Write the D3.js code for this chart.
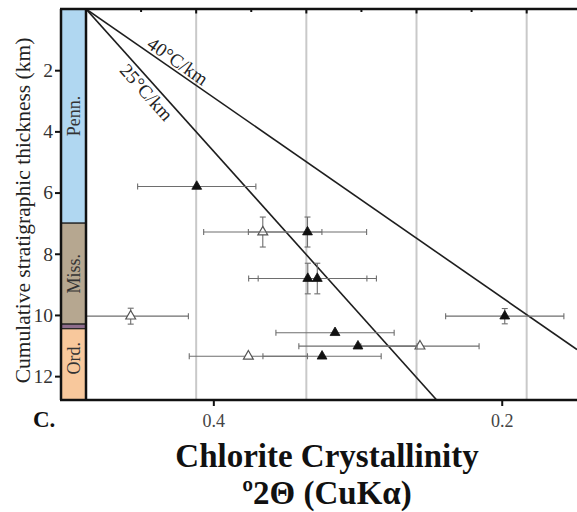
<!DOCTYPE html>
<html>
<head>
<meta charset="utf-8">
<script src="https://cdn.jsdelivr.net/npm/d3@7"></script>
<style>
  html, body { margin: 0; padding: 0; background: #fff; }
  svg { display: block; }
  text { font-family: "Liberation Serif", "Times New Roman", serif; }
</style>
</head>
<body>
<svg id="chart" width="577" height="512"></svg>
<script>
// ---------- data ----------
// filled triangles
const filledDepth = [5.80, 7.29, 8.81, 8.81, 10.04, 10.58, 11.02, 11.35];
const filledCC    = [0.4115, 0.3347, 0.3345, 0.3279, 0.1979, 0.3156, 0.2997, 0.3246];
const filledXErr  = [0.041, 0.041, 0.041, 0.041, 0.041, 0.041, 0.041, 0.041];
const filledYErr  = [0, 0.49, 0.50, 0.50, 0.25, 0, 0, 0];
// open triangles
const openDepth = [7.29, 10.04, 11.02, 11.35];
const openCC    = [0.3657, 0.4573, 0.2567, 0.3757];
const openXErr  = [0.041, 0.040, 0.041, 0.041];
const openYErr  = [0.49, 0.26, 0, 0];
// geothermal gradient lines (start, end) in data units
const gradientNames = ["40°C/km", "25°C/km"];
const gradientStart = [[0.4883, 0], [0.4883, 0]];
const gradientEnd   = [[0.1478, 11.13], [0.2451, 12.78]];
// stratigraphic column
const strataNames  = ["Penn.", "Miss.", "", "Ord."];
const strataTop    = [0, 7.0, 10.30, 10.45];
const strataBottom = [7.0, 10.30, 10.45, 12.78];
const strataColors = ["#b0d7f1", "#b6a790", "#8e6d8c", "#f8c89c"];
// axes
const yTicks = [2, 4, 6, 8, 10, 12];
const xTicks = [0.4, 0.2];
const xTickLabels = ["0.4", "0.2"];
const topTicks = [0.4501, 0.4119, 0.3737, 0.3355, 0.2973, 0.2591, 0.2209, 0.1827];
const gridValues = [0.4119, 0.3355, 0.2591, 0.1827];

// ---------- layout ----------
const svg = d3.select("#chart");
const plotL = 86, plotR = 577, plotT = 9, plotB = 400;
const barL = 61;

const x = d3.scaleLinear().domain([0.4883, 0.1478]).range([plotL, plotR]);
const y = d3.scaleLinear().domain([0, 12.78]).range([plotT, plotB]);

svg.append("defs").append("clipPath").attr("id", "plotClip")
  .append("rect").attr("x", plotL).attr("y", plotT)
  .attr("width", plotR - plotL).attr("height", plotB - plotT);

// gridlines
svg.append("g").selectAll("line").data(gridValues).join("line")
  .attr("x1", d => x(d)).attr("x2", d => x(d))
  .attr("y1", plotT).attr("y2", plotB)
  .attr("stroke", "#c9c9c9").attr("stroke-width", 2);

// strata column
const strata = svg.append("g");
strata.selectAll("rect").data(strataTop).join("rect")
  .attr("x", barL).attr("width", plotL - barL)
  .attr("y", d => y(d))
  .attr("height", (d, i) => y(strataBottom[i]) - y(d))
  .attr("fill", (d, i) => strataColors[i])
  .attr("stroke", "#222").attr("stroke-width", 1.2);
strata.selectAll("text").data(strataNames).join("text")
  .attr("transform", (d, i) => `translate(${(barL + plotL) / 2 + 6},${(y(strataTop[i]) + y(strataBottom[i])) / 2 - (i === 3 ? 6 : 0)}) rotate(-90)`)
  .attr("text-anchor", "middle")
  .attr("font-size", 18)
  .attr("fill", "#333")
  .text(d => d);

// gradient lines
const plot = svg.append("g").attr("clip-path", "url(#plotClip)");
plot.selectAll("line.grad").data(gradientStart).join("line")
  .attr("class", "grad")
  .attr("x1", d => x(d[0])).attr("y1", d => y(d[1]))
  .attr("x2", (d, i) => x(gradientEnd[i][0])).attr("y2", (d, i) => y(gradientEnd[i][1]))
  .attr("stroke", "#1e1e1e").attr("stroke-width", 1.6);

// gradient labels
const labelT = [0.176, 0.195];
const labelDy = [-3, 17];
gradientNames.forEach((name, i) => {
  const x0 = x(gradientStart[i][0]), y0 = y(gradientStart[i][1]);
  const x1 = x(gradientEnd[i][0]), y1 = y(gradientEnd[i][1]);
  const ang = Math.atan2(y1 - y0, x1 - x0) * 180 / Math.PI;
  const px = x0 + (x1 - x0) * labelT[i], py = y0 + (y1 - y0) * labelT[i];
  svg.append("text")
    .attr("transform", `translate(${px},${py}) rotate(${ang})`)
    .attr("y", labelDy[i])
    .attr("text-anchor", "middle")
    .attr("font-size", 19)
    .attr("fill", "#222")
    .text(name);
});

// error bars + points
function drawSeries(depth, cc, xerr, yerr, filled) {
  const g = plot.append("g");
  const cap = 3;
  depth.forEach((d, i) => {
    const cx = x(cc[i]), cy = y(d);
    const xl = x(cc[i] + xerr[i]), xr = x(cc[i] - xerr[i]);
    g.append("line").attr("x1", xl).attr("x2", xr).attr("y1", cy).attr("y2", cy)
      .attr("stroke", "#6e6e6e").attr("stroke-width", 1.1);
    [xl, xr].forEach(xx => g.append("line").attr("x1", xx).attr("x2", xx)
      .attr("y1", cy - cap).attr("y2", cy + cap)
      .attr("stroke", "#6e6e6e").attr("stroke-width", 1.1));
    if (yerr[i] > 0) {
      const yt = y(d - yerr[i]), yb = y(d + yerr[i]);
      g.append("line").attr("x1", cx).attr("x2", cx).attr("y1", yt).attr("y2", yb)
        .attr("stroke", "#6e6e6e").attr("stroke-width", 1.1);
      [yt, yb].forEach(yy => g.append("line").attr("x1", cx - cap).attr("x2", cx + cap)
        .attr("y1", yy).attr("y2", yy)
        .attr("stroke", "#6e6e6e").attr("stroke-width", 1.1));
    }
  });
  g.selectAll("path").data(depth).join("path")
    .attr("d", d3.symbol().type(d3.symbolTriangle).size(42))
    .attr("transform", (d, i) => `translate(${x(cc[i])},${y(d)})`)
    .attr("fill", filled ? "#111" : "#fff")
    .attr("stroke", filled ? "#111" : "#555")
    .attr("stroke-width", filled ? 0.8 : 1.2);
}
drawSeries(openDepth, openCC, openXErr, openYErr, false);
drawSeries(filledDepth, filledCC, filledXErr, filledYErr, true);

// frame
const frame = svg.append("g").attr("stroke", "#111").attr("stroke-width", 2.5);
frame.append("line").attr("x1", barL - 1).attr("x2", plotR).attr("y1", plotT).attr("y2", plotT);
frame.append("line").attr("x1", barL - 1).attr("x2", plotR).attr("y1", plotB).attr("y2", plotB);
frame.append("line").attr("x1", barL).attr("x2", barL).attr("y1", plotT).attr("y2", plotB);
frame.append("line").attr("x1", plotL).attr("x2", plotL).attr("y1", plotT).attr("y2", plotB);

// top ticks (inward)
svg.append("g").selectAll("line").data(topTicks).join("line")
  .attr("x1", d => x(d)).attr("x2", d => x(d))
  .attr("y1", plotT).attr("y2", d => plotT + (gridValues.includes(d) ? 4.5 : 3))
  .attr("stroke", "#111").attr("stroke-width", 2);

// y axis
const yAxis = svg.append("g").attr("transform", `translate(${barL},0)`)
  .call(d3.axisLeft(y).tickValues(yTicks).tickSize(6).tickPadding(2).tickFormat(d3.format("d")));
yAxis.select(".domain").remove();
yAxis.selectAll(".tick line").attr("stroke", "#111").attr("stroke-width", 2);
yAxis.selectAll(".tick text").attr("font-size", 19.5).attr("fill", "#333")
  .attr("font-family", "Liberation Serif, serif");

// x axis (bottom)
const xAxis = svg.append("g").attr("transform", `translate(0,${plotB})`)
  .call(d3.axisBottom(x).tickValues(xTicks).tickSize(6).tickPadding(8)
    .tickFormat((d, i) => xTickLabels[i]));
xAxis.select(".domain").remove();
xAxis.selectAll(".tick line").attr("stroke", "#111").attr("stroke-width", 2);
xAxis.selectAll(".tick text").attr("font-size", 18).attr("fill", "#444")
  .attr("font-family", "Liberation Serif, serif");

// y label
svg.append("text")
  .attr("transform", `translate(30,${(plotT + plotB) / 2 + 6}) rotate(-90)`)
  .attr("text-anchor", "middle")
  .attr("font-size", 21.5)
  .attr("fill", "#222")
  .text("Cumulative stratigraphic thickness (km)");

// panel letter
svg.append("text").attr("x", 33).attr("y", 427)
  .attr("font-size", 23).attr("font-weight", "bold").attr("fill", "#111")
  .text("C.");

// x title
svg.append("text").attr("x", 327).attr("y", 467)
  .attr("text-anchor", "middle").attr("font-size", 33).attr("font-weight", "bold").attr("fill", "#111")
  .text("Chlorite Crystallinity");
svg.append("text").attr("x", 327).attr("y", 504)
  .attr("text-anchor", "middle").attr("font-size", 33).attr("font-weight", "bold").attr("fill", "#111")
  .text("º2Θ (CuKα)");
</script>
</body>
</html>
